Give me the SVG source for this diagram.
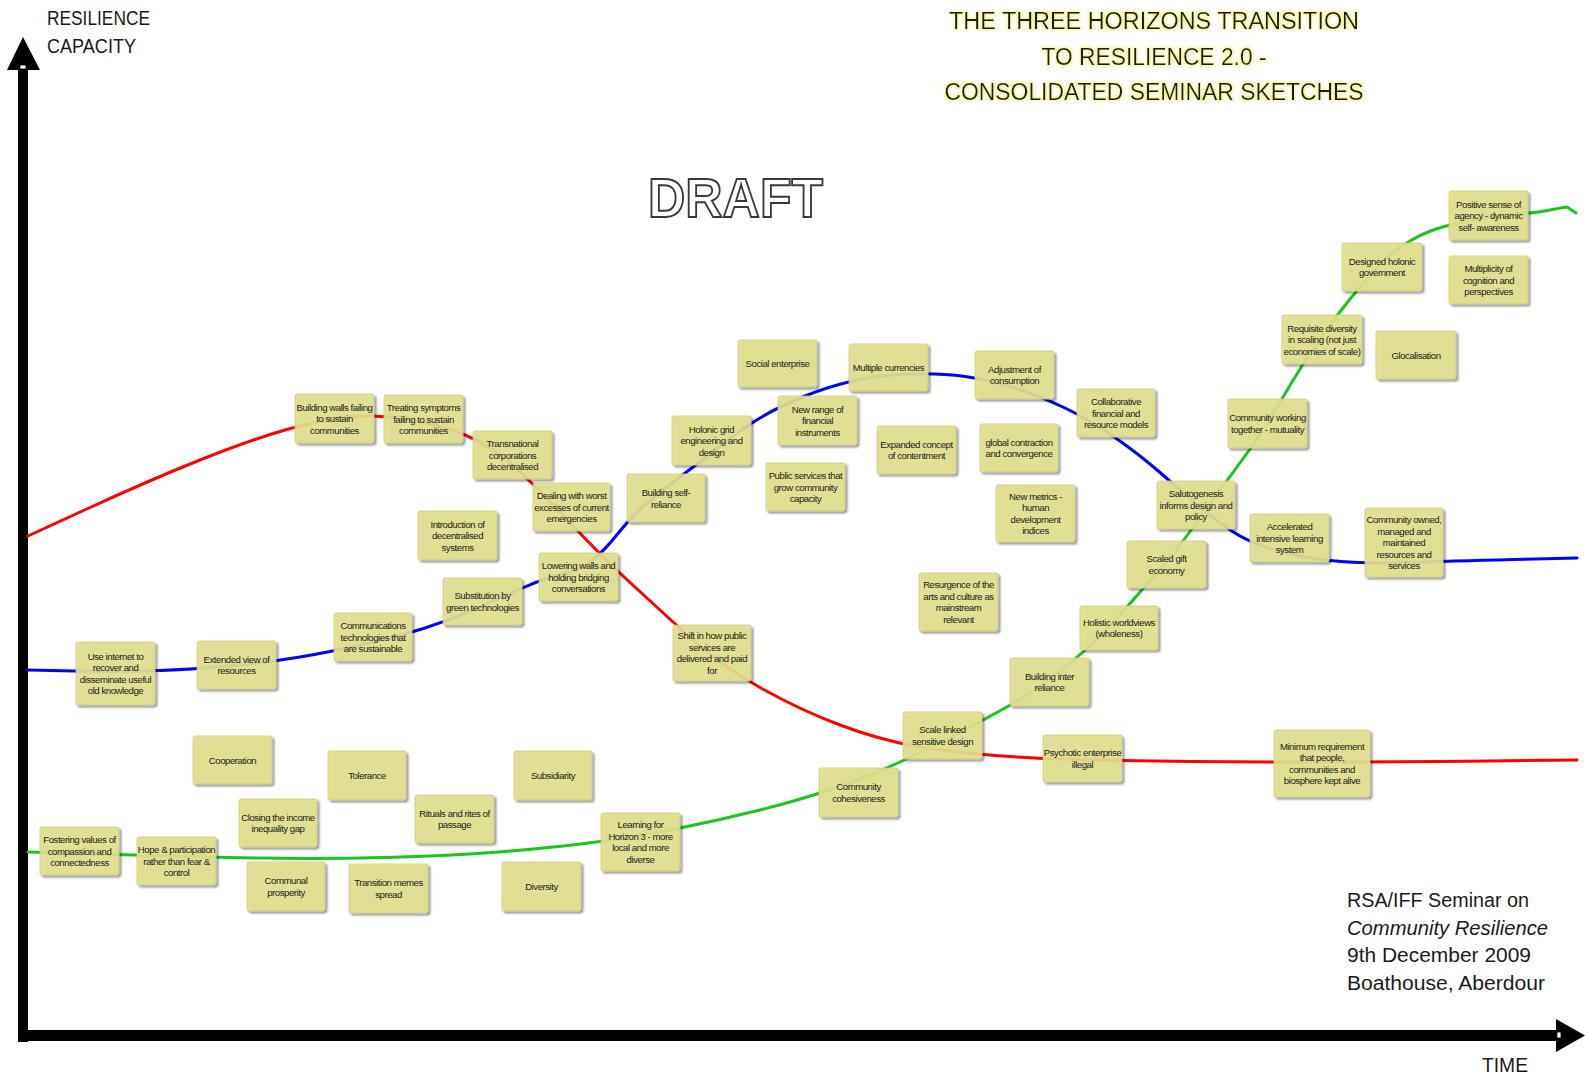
<svg xmlns="http://www.w3.org/2000/svg" width="1585" height="1076" viewBox="0 0 1585 1076">
<style>
.box{fill:#e3e18f;fill-opacity:0.9;stroke:#cbc97e;stroke-width:0.8;filter:url(#sh)}
.t{font-family:"Liberation Sans",Arial,sans-serif;font-size:9.6px;letter-spacing:-0.45px;fill:#1c1c1c;text-anchor:middle}
.lab{font-family:"Liberation Sans",Arial,sans-serif;font-size:20.5px;fill:#1a1a1a}
.ttl{font-family:"Liberation Sans",Arial,sans-serif;font-size:24.5px;fill:#1a1a1a;text-anchor:middle;filter:url(#glow)}
.curve{fill:none;stroke-width:3;stroke-linecap:round;stroke-linejoin:round}
</style>
<defs>
<filter id="sh" x="-10%" y="-10%" width="130%" height="130%">
<feGaussianBlur in="SourceAlpha" stdDeviation="1.2"/>
<feOffset dx="1.5" dy="1.8" result="o"/>
<feComponentTransfer in="o" result="s"><feFuncA type="linear" slope="0.45"/></feComponentTransfer>
<feMerge><feMergeNode in="s"/><feMergeNode in="SourceGraphic"/></feMerge>
</filter>
<filter id="glow" x="-10%" y="-40%" width="120%" height="180%">
<feMorphology in="SourceAlpha" operator="dilate" radius="0.8" result="d"/>
<feGaussianBlur in="d" stdDeviation="1.6" result="b"/>
<feFlood flood-color="#f2f07a" flood-opacity="0.85"/>
<feComposite in2="b" operator="in" result="g"/>
<feMerge><feMergeNode in="g"/><feMergeNode in="SourceGraphic"/></feMerge>
</filter>
</defs>
<rect width="1585" height="1076" fill="#ffffff"/>

<g id="axes">
<rect x="18" y="66" width="10" height="976" fill="#000"/>
<polygon points="23,37 7,70 40,70" fill="#000"/>
<rect x="20" y="65" width="6" height="4" fill="#fff" stroke="#000" stroke-width="0.8"/>
<rect x="18" y="1030" width="1541" height="11" fill="#000"/>
<polygon points="1556,1019 1585,1035.5 1556,1052" fill="#000"/>
<rect x="1557" y="1032" width="4" height="6" fill="#fff" stroke="#000" stroke-width="0.8"/>
</g>

<g id="labels">
<text class="lab" x="47" y="25" textLength="103" lengthAdjust="spacingAndGlyphs">RESILIENCE</text>
<text class="lab" x="47" y="53" textLength="89" lengthAdjust="spacingAndGlyphs">CAPACITY</text>
<text class="ttl" x="1154" y="29" textLength="410" lengthAdjust="spacingAndGlyphs">THE THREE HORIZONS TRANSITION</text>
<text class="ttl" x="1154" y="64.5" textLength="225" lengthAdjust="spacingAndGlyphs">TO RESILIENCE 2.0 -</text>
<text class="ttl" x="1154" y="100" textLength="419" lengthAdjust="spacingAndGlyphs">CONSOLIDATED SEMINAR SKETCHES</text>
<text x="648" y="217" font-family="Liberation Sans,Arial,sans-serif" font-weight="bold" font-size="56" fill="#fff" stroke="#3a3a3a" stroke-width="2" textLength="175" lengthAdjust="spacingAndGlyphs">DRAFT</text>
<text class="lab" x="1347" y="907" textLength="182" lengthAdjust="spacingAndGlyphs">RSA/IFF Seminar on</text>
<text class="lab" x="1347" y="935" font-style="italic" textLength="201" lengthAdjust="spacingAndGlyphs">Community Resilience</text>
<text class="lab" x="1347" y="962" textLength="184" lengthAdjust="spacingAndGlyphs">9th December 2009</text>
<text class="lab" x="1347" y="990" textLength="198" lengthAdjust="spacingAndGlyphs">Boathouse, Aberdour</text>
<text class="lab" x="1482" y="1072" textLength="46" lengthAdjust="spacingAndGlyphs">TIME</text>
</g>

<g id="connectors">
<path class="curve" stroke="#ff0000" d="M28 536 L89 508 Q150 480 200 460 Q250 440 285 430 Q320 420 350 417 Q380 414 410 419.5 Q440 425 465 435 Q490 445 515 467.5 Q540 490 570 522.5 Q600 555 630 582.5 Q660 610 690 637.5 Q720 665 760 687.5 Q800 710 840 725 Q880 740 915 746 Q950 752 995 755.5 Q1040 759 1120 760.5 Q1200 762 1300 762 Q1400 762 1488.5 761 L1577 760"/>
<path class="curve" stroke="#0000ff" d="M28 670 L74 671 Q120 672 160 670.5 Q200 669 235 665.5 Q270 662 300 657 Q330 652 365 644 Q400 636 425 628 Q450 620 475 609 Q500 598 522.5 588 Q545 578 562.5 574 Q580 570 592.5 560 Q605 550 617.5 534 Q630 518 645 505 Q660 492 680 477 Q700 462 720 446 Q740 430 760 418 Q780 406 805 396 Q830 386 855 380.5 Q880 375 910 374 Q940 373 965 376.5 Q990 380 1015 388 Q1040 396 1065 408 Q1090 420 1115 437.5 Q1140 455 1160 472.5 Q1180 490 1197.5 505 Q1215 520 1232.5 531.5 Q1250 543 1275 550 Q1300 557 1330 560.5 Q1360 564 1405 562.5 Q1450 561 1513.5 559.5 L1577 558"/>
<path class="curve" stroke="#1ec41e" d="M28 852 L64 853 Q100 854 150 855.5 Q200 857 260 858 Q320 859 385 857.5 Q450 856 505 851.5 Q560 847 600 841.5 Q640 836 680 828 Q720 820 760 810 Q800 800 835 788 Q870 776 900 762 Q930 748 955 735 Q980 722 1005 708 Q1030 694 1050 679 Q1070 664 1087.5 648 Q1105 632 1122.5 612 Q1140 592 1157.5 572.5 Q1175 553 1190 531.5 Q1205 510 1220 490 Q1235 470 1250 449 Q1265 428 1277.5 406.5 Q1290 385 1302.5 365 Q1315 345 1330 325 Q1345 305 1357.5 290 Q1370 275 1382.5 262.5 Q1395 250 1410 241 Q1425 232 1442.5 227 Q1460 222 1480 218.5 Q1500 215 1517.5 214 Q1535 213 1547.5 210.5 Q1560 208 1567 207 L1576 213"/>
</g>

<g id="nodes">
<g id="n1"><rect class="box" x="295" y="394" width="79" height="49" rx="2"/><text class="t" y="410.5"><tspan x="334.5">Building walls failing</tspan><tspan x="334.5" dy="11.5">to sustain</tspan><tspan x="334.5" dy="11.5">communities</tspan></text></g>
<g id="n2"><rect class="box" x="384" y="395" width="79" height="48" rx="2"/><text class="t" y="411"><tspan x="423.5">Treating symptoms</tspan><tspan x="423.5" dy="11.5">failing to sustain</tspan><tspan x="423.5" dy="11.5">communities</tspan></text></g>
<g id="n3"><rect class="box" x="473" y="431" width="79" height="48" rx="2"/><text class="t" y="447"><tspan x="512.5">Transnational</tspan><tspan x="512.5" dy="11.5">corporations</tspan><tspan x="512.5" dy="11.5">decentralised</tspan></text></g>
<g id="n4"><rect class="box" x="533" y="483" width="77" height="48" rx="2"/><text class="t" y="499"><tspan x="571.5">Dealing with worst</tspan><tspan x="571.5" dy="11.5">excesses of current</tspan><tspan x="571.5" dy="11.5">emergencies</tspan></text></g>
<g id="n5"><rect class="box" x="418" y="511" width="79" height="49" rx="2"/><text class="t" y="527.5"><tspan x="457.5">Introduction of</tspan><tspan x="457.5" dy="11.5">decentralised</tspan><tspan x="457.5" dy="11.5">systems</tspan></text></g>
<g id="n6"><rect class="box" x="443" y="578" width="79" height="47" rx="2"/><text class="t" y="599"><tspan x="482.5">Substitution by</tspan><tspan x="482.5" dy="11.5">green technologies</tspan></text></g>
<g id="n7"><rect class="box" x="539" y="553" width="79" height="48" rx="2"/><text class="t" y="569"><tspan x="578.5">Lowering walls and</tspan><tspan x="578.5" dy="11.5">holding bridging</tspan><tspan x="578.5" dy="11.5">conversations</tspan></text></g>
<g id="n8"><rect class="box" x="627" y="474" width="78" height="48" rx="2"/><text class="t" y="496"><tspan x="666">Building self-</tspan><tspan x="666" dy="11.5">reliance</tspan></text></g>
<g id="n9"><rect class="box" x="672" y="416" width="79" height="49" rx="2"/><text class="t" y="432.5"><tspan x="711.5">Holonic grid</tspan><tspan x="711.5" dy="11.5">engineering and</tspan><tspan x="711.5" dy="11.5">design</tspan></text></g>
<g id="n10"><rect class="box" x="738" y="340" width="79" height="47" rx="2"/><text class="t" x="777.5" y="367">Social enterprise</text></g>
<g id="n11"><rect class="box" x="778" y="396" width="79" height="49" rx="2"/><text class="t" y="412.5"><tspan x="817.5">New range of</tspan><tspan x="817.5" dy="11.5">financial</tspan><tspan x="817.5" dy="11.5">instruments</tspan></text></g>
<g id="n12"><rect class="box" x="766" y="463" width="79" height="48" rx="2"/><text class="t" y="479"><tspan x="805.5">Public services that</tspan><tspan x="805.5" dy="11.5">grow community</tspan><tspan x="805.5" dy="11.5">capacity</tspan></text></g>
<g id="n13"><rect class="box" x="849" y="344" width="79" height="47" rx="2"/><text class="t" x="888.5" y="371">Multiple currencies</text></g>
<g id="n14"><rect class="box" x="877" y="426" width="79" height="48" rx="2"/><text class="t" y="447.75"><tspan x="916.5">Expanded concept</tspan><tspan x="916.5" dy="11.5">of contentment</tspan></text></g>
<g id="n15"><rect class="box" x="975" y="351" width="79" height="48" rx="2"/><text class="t" y="372.75"><tspan x="1014.5">Adjustment of</tspan><tspan x="1014.5" dy="11.5">consumption</tspan></text></g>
<g id="n16"><rect class="box" x="980" y="424" width="78" height="48" rx="2"/><text class="t" y="445.75"><tspan x="1019">global contraction</tspan><tspan x="1019" dy="11.5">and convergence</tspan></text></g>
<g id="n17"><rect class="box" x="1077" y="389" width="78" height="48" rx="2"/><text class="t" y="405"><tspan x="1116">Collaborative</tspan><tspan x="1116" dy="11.5">financial and</tspan><tspan x="1116" dy="11.5">resource models</tspan></text></g>
<g id="n18"><rect class="box" x="996" y="485" width="79" height="57" rx="2"/><text class="t" y="499.75"><tspan x="1035.5">New metrics -</tspan><tspan x="1035.5" dy="11.5">human</tspan><tspan x="1035.5" dy="11.5">development</tspan><tspan x="1035.5" dy="11.5">indices</tspan></text></g>
<g id="n19"><rect class="box" x="1157" y="481" width="78" height="48" rx="2"/><text class="t" y="497"><tspan x="1196">Salutogenesis</tspan><tspan x="1196" dy="11.5">informs design and</tspan><tspan x="1196" dy="11.5">policy</tspan></text></g>
<g id="n20"><rect class="box" x="1250" y="514" width="79" height="48" rx="2"/><text class="t" y="530"><tspan x="1289.5">Accelerated</tspan><tspan x="1289.5" dy="11.5">intensive learning</tspan><tspan x="1289.5" dy="11.5">system</tspan></text></g>
<g id="n21"><rect class="box" x="1365" y="508" width="78" height="69" rx="2"/><text class="t" y="523"><tspan x="1404">Community owned,</tspan><tspan x="1404" dy="11.5">managed and</tspan><tspan x="1404" dy="11.5">maintained</tspan><tspan x="1404" dy="11.5">resources and</tspan><tspan x="1404" dy="11.5">services</tspan></text></g>
<g id="n22"><rect class="box" x="1228" y="399" width="79" height="49" rx="2"/><text class="t" y="421.25"><tspan x="1267.5">Community working</tspan><tspan x="1267.5" dy="11.5">together - mutuality</tspan></text></g>
<g id="n23"><rect class="box" x="1282" y="315" width="80" height="49" rx="2"/><text class="t" y="331.5"><tspan x="1322">Requisite diversity</tspan><tspan x="1322" dy="11.5">in scaling (not just</tspan><tspan x="1322" dy="11.5">economies of scale)</tspan></text></g>
<g id="n24"><rect class="box" x="1376" y="331" width="80" height="48" rx="2"/><text class="t" x="1416" y="358.5">Glocalisation</text></g>
<g id="n25"><rect class="box" x="1342" y="243" width="80" height="48" rx="2"/><text class="t" y="264.75"><tspan x="1382">Designed holonic</tspan><tspan x="1382" dy="11.5">government</tspan></text></g>
<g id="n26"><rect class="box" x="1449" y="191" width="79" height="49" rx="2"/><text class="t" y="207.5"><tspan x="1488.5">Positive sense of</tspan><tspan x="1488.5" dy="11.5">agency - dynamic</tspan><tspan x="1488.5" dy="11.5">self- awareness</tspan></text></g>
<g id="n27"><rect class="box" x="1449" y="256" width="79" height="48" rx="2"/><text class="t" y="272"><tspan x="1488.5">Multiplicity of</tspan><tspan x="1488.5" dy="11.5">cognition and</tspan><tspan x="1488.5" dy="11.5">perspectives</tspan></text></g>
<g id="n28"><rect class="box" x="1127" y="541" width="79" height="47" rx="2"/><text class="t" y="562.25"><tspan x="1166.5">Scaled gift</tspan><tspan x="1166.5" dy="11.5">economy</tspan></text></g>
<g id="n29"><rect class="box" x="1080" y="606" width="78" height="44" rx="2"/><text class="t" y="625.75"><tspan x="1119">Holistic worldviews</tspan><tspan x="1119" dy="11.5">(wholeness)</tspan></text></g>
<g id="n30"><rect class="box" x="919" y="573" width="79" height="58" rx="2"/><text class="t" y="588.25"><tspan x="958.5">Resurgence of the</tspan><tspan x="958.5" dy="11.5">arts and culture as</tspan><tspan x="958.5" dy="11.5">mainstream</tspan><tspan x="958.5" dy="11.5">relevant</tspan></text></g>
<g id="n31"><rect class="box" x="1010" y="658" width="79" height="48" rx="2"/><text class="t" y="679.75"><tspan x="1049.5">Building inter</tspan><tspan x="1049.5" dy="11.5">reliance</tspan></text></g>
<g id="n32"><rect class="box" x="673" y="625" width="78" height="56" rx="2"/><text class="t" y="639.25"><tspan x="712">Shift in how public</tspan><tspan x="712" dy="11.5">services are</tspan><tspan x="712" dy="11.5">delivered and paid</tspan><tspan x="712" dy="11.5">for</tspan></text></g>
<g id="n33"><rect class="box" x="903" y="712" width="79" height="47" rx="2"/><text class="t" y="733.25"><tspan x="942.5">Scale linked</tspan><tspan x="942.5" dy="11.5">sensitive design</tspan></text></g>
<g id="n34"><rect class="box" x="1043" y="735" width="79" height="47" rx="2"/><text class="t" y="756.25"><tspan x="1082.5">Psychotic enterprise</tspan><tspan x="1082.5" dy="11.5">illegal</tspan></text></g>
<g id="n35"><rect class="box" x="1274" y="730" width="96" height="67" rx="2"/><text class="t" y="749.75"><tspan x="1322">Minimum requirement</tspan><tspan x="1322" dy="11.5">that people,</tspan><tspan x="1322" dy="11.5">communities and</tspan><tspan x="1322" dy="11.5">biosphere kept alive</tspan></text></g>
<g id="n36"><rect class="box" x="819" y="768" width="79" height="49" rx="2"/><text class="t" y="790.25"><tspan x="858.5">Community</tspan><tspan x="858.5" dy="11.5">cohesiveness</tspan></text></g>
<g id="n37"><rect class="box" x="76" y="642" width="79" height="63" rx="2"/><text class="t" y="659.75"><tspan x="115.5">Use internet to</tspan><tspan x="115.5" dy="11.5">recover and</tspan><tspan x="115.5" dy="11.5">disseminate useful</tspan><tspan x="115.5" dy="11.5">old knowledge</tspan></text></g>
<g id="n38"><rect class="box" x="197" y="641" width="79" height="48" rx="2"/><text class="t" y="662.75"><tspan x="236.5">Extended view of</tspan><tspan x="236.5" dy="11.5">resources</tspan></text></g>
<g id="n39"><rect class="box" x="334" y="613" width="78" height="48" rx="2"/><text class="t" y="629"><tspan x="373">Communications</tspan><tspan x="373" dy="11.5">technologies that</tspan><tspan x="373" dy="11.5">are sustainable</tspan></text></g>
<g id="n40"><rect class="box" x="193" y="736" width="79" height="48" rx="2"/><text class="t" x="232.5" y="763.5">Cooperation</text></g>
<g id="n41"><rect class="box" x="328" y="751" width="78" height="49" rx="2"/><text class="t" x="367" y="779">Tolerance</text></g>
<g id="n42"><rect class="box" x="514" y="751" width="78" height="49" rx="2"/><text class="t" x="553" y="779">Subsidiarity</text></g>
<g id="n43"><rect class="box" x="239" y="799" width="78" height="48" rx="2"/><text class="t" y="820.75"><tspan x="278">Closing the income</tspan><tspan x="278" dy="11.5">inequality gap</tspan></text></g>
<g id="n44"><rect class="box" x="415" y="795" width="79" height="48" rx="2"/><text class="t" y="816.75"><tspan x="454.5">Rituals and rites of</tspan><tspan x="454.5" dy="11.5">passage</tspan></text></g>
<g id="n45"><rect class="box" x="40" y="827" width="79" height="48" rx="2"/><text class="t" y="843"><tspan x="79.5">Fostering values of</tspan><tspan x="79.5" dy="11.5">compassion and</tspan><tspan x="79.5" dy="11.5">connectedness</tspan></text></g>
<g id="n46"><rect class="box" x="137" y="837" width="79" height="48" rx="2"/><text class="t" y="853"><tspan x="176.5">Hope &amp; participation</tspan><tspan x="176.5" dy="11.5">rather than fear &amp;</tspan><tspan x="176.5" dy="11.5">control</tspan></text></g>
<g id="n47"><rect class="box" x="247" y="862" width="78" height="49" rx="2"/><text class="t" y="884.25"><tspan x="286">Communal</tspan><tspan x="286" dy="11.5">prosperity</tspan></text></g>
<g id="n48"><rect class="box" x="349" y="864" width="79" height="49" rx="2"/><text class="t" y="886.25"><tspan x="388.5">Transition memes</tspan><tspan x="388.5" dy="11.5">spread</tspan></text></g>
<g id="n49"><rect class="box" x="502" y="862" width="79" height="49" rx="2"/><text class="t" x="541.5" y="890">Diversity</text></g>
<g id="n50"><rect class="box" x="601" y="813" width="79" height="58" rx="2"/><text class="t" y="828.25"><tspan x="640.5">Learning for</tspan><tspan x="640.5" dy="11.5">Horizon 3 - more</tspan><tspan x="640.5" dy="11.5">local and more</tspan><tspan x="640.5" dy="11.5">diverse</tspan></text></g>
</g>
</svg>
